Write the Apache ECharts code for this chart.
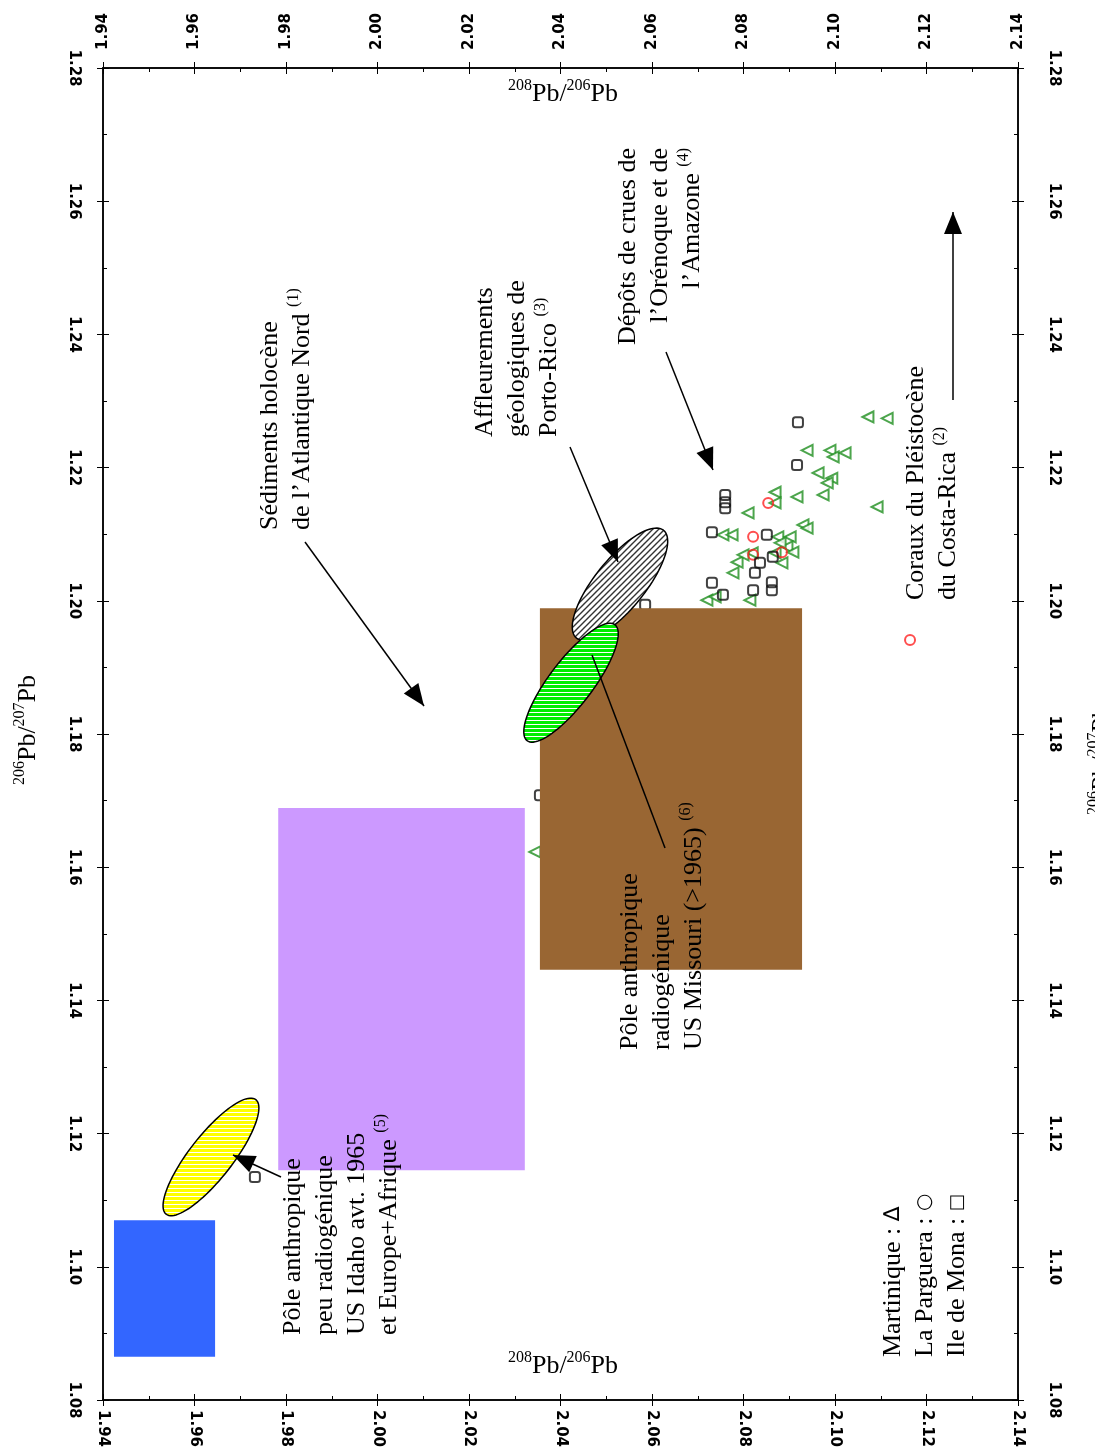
<!DOCTYPE html>
<html><head><meta charset="utf-8">
<script src="https://cdn.jsdelivr.net/npm/echarts@6/dist/echarts.min.js"></script>
<style>html,body{margin:0;padding:0;background:#fff}#c{width:1095px;height:1454px}</style>
</head><body><div id="c"></div>
<script>
// ---- Axis ranges / ticks ----
const xRange = [1.94, 2.14];   // 208Pb/206Pb
const yRange = [1.08, 1.28];   // 206Pb/207Pb
const tickStep = 0.02;

// ---- Scatter data [208Pb/206Pb, 206Pb/207Pb] ----
const martinique = [
  [2.1072,1.2276],[2.1114,1.2274],[2.0939,1.2226],[2.0989,1.2226],[2.0996,1.2216],
  [2.1022,1.2222],[2.0963,1.2192],[2.0993,1.2184],[2.0983,1.2177],[2.0869,1.2163],
  [2.0869,1.2147],[2.0917,1.2156],[2.0974,1.2159],[2.1092,1.2141],[2.0810,1.2132],
  [2.0930,1.2114],[2.0939,1.2109],[2.0755,1.2099],[2.0775,1.2099],[2.0875,1.2096],
  [2.0902,1.2096],[2.0895,1.2081],[2.0819,1.2072],[2.0869,1.2072],[2.0884,1.2057],
  [2.0908,1.2073],[2.0786,1.2058],[2.0720,1.2001],[2.0738,1.2006],[2.0814,1.2001],
  [2.0799,1.2069],[2.0880,1.2087],[2.0777,1.2042],[2.0344,1.1623]
];
const laParguera = [
  [2.0854,1.2147],[2.0821,1.2096],[2.0821,1.2069],[2.0884,1.2073],[2.1164,1.1941]
];
const ileDeMona = [
  [2.0919,1.2268],[2.0917,1.2204],[2.0760,1.2159],[2.0760,1.2148],[2.0760,1.2139],
  [2.0731,1.2103],[2.0851,1.2099],[2.0836,1.2057],[2.0825,1.2042],[2.0731,1.2027],
  [2.0755,1.2009],[2.0821,1.2016],[2.0862,1.2028],[2.0862,1.2016],[2.0864,1.2066],
  [2.0585,1.1994],[2.0355,1.1708],[1.9732,1.1135]
];

// ---- Field rectangles [x1, x2, y1, y2] ----
const rectIdahoEurope = [1.9424, 1.9645, 1.0865, 1.1070];
const rectNAtlantic   = [1.9783, 2.0322, 1.1145, 1.1689];
const rectMissouri    = [2.0355, 2.0928, 1.1446, 1.1989];

// ---- Ellipses [cx, cy, majorEndX, majorEndY, minorEndX, minorEndY] ----
const ellPortoRico = [2.0530, 1.2025, 2.0625, 1.2106, 2.0573, 1.2002];
const ellMissouri  = [2.0423, 1.1877, 2.0519, 1.1964, 2.0461, 1.1857];
const ellIdaho     = [1.9636, 1.1165, 1.9734, 1.1251, 1.9673, 1.1145];

function pattern(kind){
  const c = document.createElement('canvas');
  const ctx = c.getContext('2d');
  if (kind === 'hatch') {
    c.width = 6; c.height = 6;
    ctx.fillStyle = '#fff'; ctx.fillRect(0,0,6,6);
    ctx.strokeStyle = '#333'; ctx.lineWidth = 1.4;
    ctx.beginPath();
    ctx.moveTo(-1,1); ctx.lineTo(1,-1);
    ctx.moveTo(0,6); ctx.lineTo(6,0);
    ctx.moveTo(5,7); ctx.lineTo(7,5);
    ctx.stroke();
  } else {
    c.width = 4; c.height = 4;
    ctx.fillStyle = kind; ctx.fillRect(0,0,4,4);
    ctx.fillStyle = '#fff'; ctx.fillRect(0,0,4,1);
  }
  return {image: c, repeat: 'repeat'};
}

const rectColors = ['#3366ff', '#cc99ff', '#996633'];
const ellFills = [pattern('hatch'), pattern('#00ee00'), pattern('#ffff00')];

const tickFmt = v => v.toFixed(2);
const labelStyle = {rotate: -90, fontSize: 15, fontWeight: 'bold', fontFamily: 'DejaVu Sans', color: '#000', formatter: tickFmt};
const lineSt = {color: '#000', width: 1.5};

function mkAxis(pos, range, outer){
  return {
    type: 'value', position: pos, min: range[0], max: range[1], interval: tickStep,
    splitLine: {show: false},
    axisLine: {show: true, onZero: false, lineStyle: lineSt},
    axisTick: {show: true, inside: !outer, length: 6, lineStyle: {color: '#000', width: 1}},
    axisLabel: outer ? Object.assign({show: true}, labelStyle) : {show: false},
    minorTick: {show: !outer, splitNumber: 2, length: 4, lineStyle: {color: '#000', width: 1}}
  };
}
const xAxes = [mkAxis('bottom', xRange, true), mkAxis('bottom', xRange, false), mkAxis('top', xRange, true), mkAxis('top', xRange, false)];
xAxes[0].axisLabel.margin = 10;
xAxes[2].axisLabel.margin = 18;
const yAxes = [mkAxis('left', yRange, true), mkAxis('left', yRange, false), mkAxis('right', yRange, true), mkAxis('right', yRange, false)];
yAxes[0].axisLabel.margin = 22;
yAxes[2].axisLabel.margin = 28;

function rectItem(params, api){
  const p1 = api.coord([api.value(0), api.value(2)]);
  const p2 = api.coord([api.value(1), api.value(3)]);
  return {type: 'rect', shape: {x: Math.min(p1[0],p2[0]), y: Math.min(p1[1],p2[1]), width: Math.abs(p2[0]-p1[0]), height: Math.abs(p2[1]-p1[1])},
    style: {fill: rectColors[params.dataIndex]}};
}
function ellItem(params, api){
  const c = api.coord([api.value(0), api.value(1)]);
  const a = api.coord([api.value(2), api.value(3)]);
  const b = api.coord([api.value(4), api.value(5)]);
  const pts = [];
  for (let i = 0; i < 96; i++) {
    const t = i / 96 * Math.PI * 2;
    pts.push([c[0] + (a[0]-c[0])*Math.cos(t) + (b[0]-c[0])*Math.sin(t),
              c[1] + (a[1]-c[1])*Math.cos(t) + (b[1]-c[1])*Math.sin(t)]);
  }
  return {type: 'polygon', shape: {points: pts}, style: {fill: ellFills[params.dataIndex], stroke: '#000', lineWidth: 1.5}};
}

const serif = 'Liberation Serif';
const FS = 26;
const rich = {
  t: {fontFamily: serif, fontSize: FS, color: '#000', lineHeight: 32},
  s: {fontFamily: serif, fontSize: 16, color: '#000', verticalAlign: 'top', lineHeight: 32, padding: [0,0,12,0]},
  g: {fontFamily: 'DejaVu Sans', fontSize: 22, color: '#008800', lineHeight: 32},
  r: {fontFamily: 'DejaVu Sans', fontSize: 20, color: '#ff3333', lineHeight: 32},
  k: {fontFamily: 'DejaVu Sans', fontSize: 18, color: '#000', lineHeight: 32}
};
function vtext(x, y, text, align){
  return {type: 'text', x: x, y: y, rotation: Math.PI/2, z: 100,
    style: {text: text, rich: rich, fill: '#000', font: FS + 'px ' + serif, align: align || 'left', verticalAlign: 'top', lineHeight: 32}};
}
function arrow(x1, y1, x2, y2, head){
  const els = [{type: 'line', z: 100, shape: {x1: x1, y1: y1, x2: x2, y2: y2}, style: {stroke: '#000', lineWidth: 1.5}}];
  if (head) {
    const ang = Math.atan2(y2-y1, x2-x1), L = 22, W = 9;
    const bx = x2 - L*Math.cos(ang), by = y2 - L*Math.sin(ang);
    els.push({type: 'polygon', z: 100, shape: {points: [[x2,y2],[bx + W*Math.sin(ang), by - W*Math.cos(ang)],[bx - W*Math.sin(ang), by + W*Math.cos(ang)]]}, style: {fill: '#000'}});
  }
  return els;
}

const graphics = [
  vtext(254, 530, '{t|Sédiments holocène}\n{t|de l’Atlantique Nord }{s|(1)}'),
  vtext(469, 437, '{t|Affleurements}\n{t|géologiques de}\n{t|Porto-Rico }{s|(3)}'),
  vtext(612, 148, '{t|Dépôts de crues de}\n{t|l’Orénoque et de}\n{t|l’Amazone }{s|(4)}', 'right'),
  vtext(900, 600, '{t|Coraux du Pléistocène}\n{t|du Costa-Rica }{s|(2)}'),
  vtext(614, 1050, '{t|Pôle anthropique}\n{t|radiogénique}\n{t|US Missouri (>1965) }{s|(6)}'),
  vtext(277, 1335, '{t|Pôle anthropique}\n{t|peu radiogénique}\n{t|US Idaho avt. 1965}\n{t|et Europe+Afrique }{s|(5)}'),
  vtext(877, 1357, '{t|Martinique : }{g|∆}\n{t|La Parguera : }{r|○}\n{t|Ile de Mona : }{k|□}'),
  {type: 'text', x: 12, y: 730, rotation: Math.PI/2, z: 100, style: {text: '{s|206}{t|Pb/}{s|207}{t|Pb}', rich: rich, align: 'center', verticalAlign: 'top'}},
  {type: 'text', x: 1086, y: 760, rotation: Math.PI/2, z: 100, style: {text: '{s|206}{t|Pb/}{s|207}{t|Pb}', rich: rich, align: 'center', verticalAlign: 'top'}},
  {type: 'text', x: 563, y: 78, z: 100, style: {text: '{s|208}{t|Pb/}{s|206}{t|Pb}', rich: rich, align: 'center', verticalAlign: 'top'}},
  {type: 'text', x: 563, y: 1350, z: 100, style: {text: '{s|208}{t|Pb/}{s|206}{t|Pb}', rich: rich, align: 'center', verticalAlign: 'top'}}
].concat(
  arrow(305, 542, 424, 706, true),
  arrow(570, 447, 618, 562, true),
  arrow(666, 352, 713, 470, true),
  arrow(953, 400, 953, 212, true),
  arrow(281, 1177, 233, 1155, true),
  arrow(665, 848, 592, 655, false)
);

const chart = echarts.init(document.getElementById('c'), null, {renderer: 'canvas'});
chart.setOption({
  animation: false,
  backgroundColor: '#fff',
  grid: {left: 103, right: 77, top: 68, bottom: 54, containLabel: false},
  xAxis: xAxes,
  yAxis: yAxes,
  series: [
    {name: 'Martinique', type: 'scatter', data: martinique, symbol: 'triangle', symbolRotate: 90, symbolSize: 11,
      itemStyle: {color: '#fff', borderColor: '#1f8f1f', borderWidth: 2}, z: 2},
    {name: 'La Parguera', type: 'scatter', data: laParguera, symbol: 'circle', symbolSize: 10,
      itemStyle: {color: 'rgba(255,255,255,0)', borderColor: '#ff2222', borderWidth: 2}, z: 3},
    {name: 'Ile de Mona', type: 'scatter', data: ileDeMona, symbol: 'roundRect', symbolSize: 10,
      itemStyle: {color: 'rgba(255,255,255,0)', borderColor: '#111', borderWidth: 2}, z: 3},
    {type: 'custom', renderItem: rectItem, data: [rectIdahoEurope, rectNAtlantic, rectMissouri], z: 5,
      encode: {x: [0,1], y: [2,3]}},
    {type: 'custom', renderItem: ellItem, data: [ellPortoRico, ellMissouri, ellIdaho], z: 6,
      encode: {x: [0,2,4], y: [1,3,5]}}
  ],
  graphic: graphics
});
</script></body></html>
